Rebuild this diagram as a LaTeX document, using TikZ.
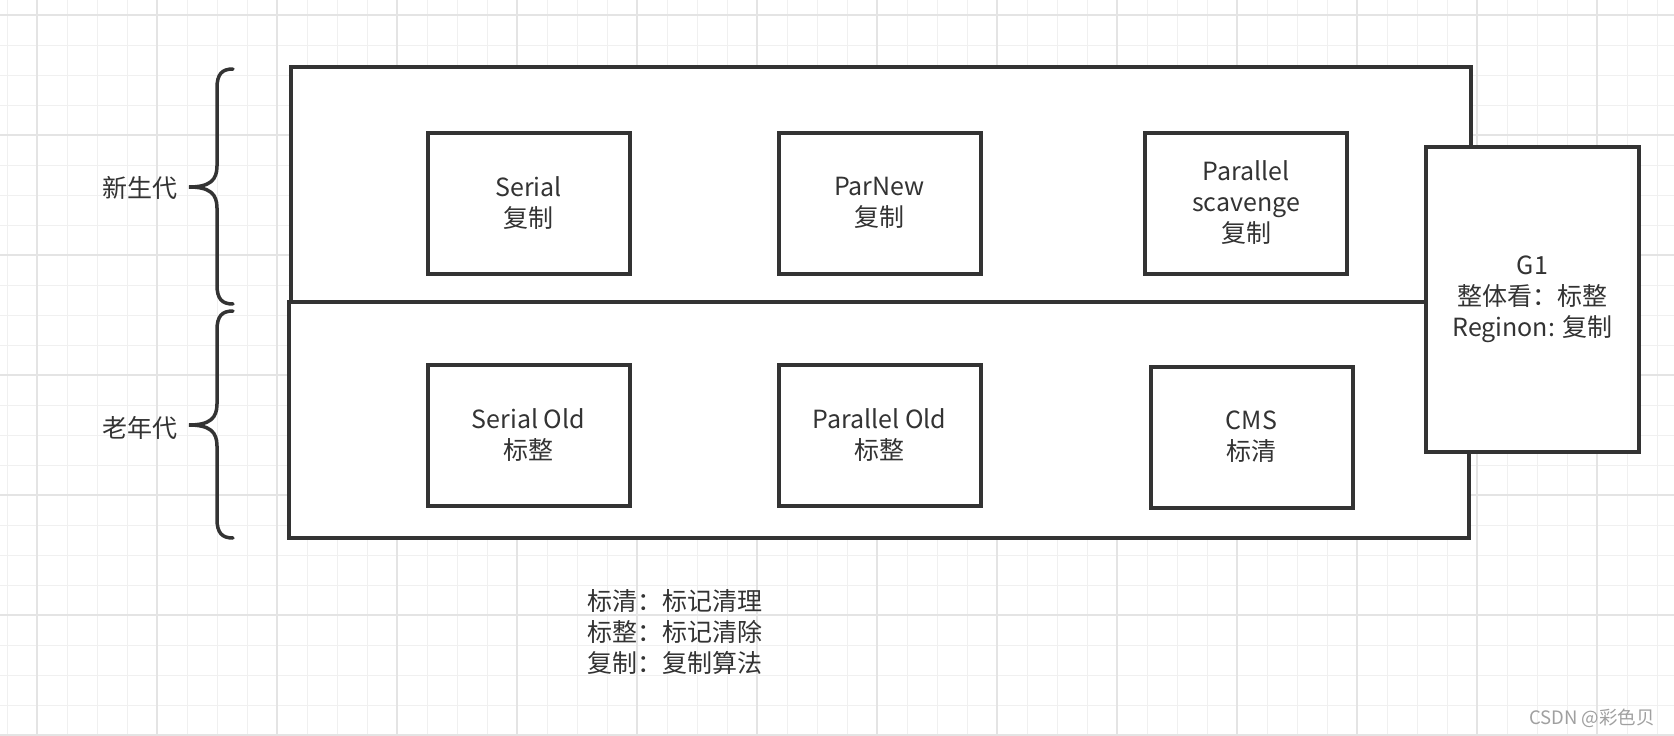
\documentclass[tikz,border=0pt]{standalone}
\usepackage{fontspec}
\setmainfont{Noto Sans CJK SC}
\definecolor{ink}{HTML}{333333}
\definecolor{gridminor}{HTML}{F0F0F0}
\definecolor{gridmajor}{HTML}{E4E4E4}
\definecolor{wm}{HTML}{A0A0A0}
\tikzset{
  box/.style={draw=ink, line width=4pt, fill=white, align=center, text=ink,
    font=\fontsize{25}{31}\selectfont, inner sep=0pt},
  gcbox/.style={box, minimum width=202pt, minimum height=141pt},
  brace/.style={draw=ink, line width=3.5pt, line cap=round},
  lbl/.style={text=ink, font=\fontsize{25}{31}\selectfont, inner sep=0pt},
}
\begin{document}
\begin{tikzpicture}[x=1pt,y=-1pt]
\useasboundingbox (0,0) rectangle (1674,736);
\fill[white] (0,0) rectangle (1674,736);
% grid
\foreach \i in {0,...,55} {\draw[gridminor, line width=1pt] (7+30*\i,0) -- (7+30*\i,736);}
\foreach \i in {0,...,24} {\draw[gridminor, line width=1pt] (0,15+30*\i) -- (1674,15+30*\i);}
\foreach \i in {0,...,13} {\draw[gridmajor, line width=1.3pt] (37+120*\i,0) -- (37+120*\i,736);}
\foreach \i in {0,...,6} {\draw[gridmajor, line width=1.3pt] (0,15+120*\i) -- (1674,15+120*\i);}

% generations
\node[box, minimum width=1180pt, minimum height=235pt] (young) at (881,184.5) {};
\node[box, minimum width=1180pt, minimum height=236pt] (old) at (879,420) {};

% collectors
\node[gcbox] (serial) at (528.5,203) {Serial\\复制};
\node[gcbox] (parnew) at (879.5,203) {ParNew\\复制};
\node[gcbox] (ps) at (1246,203) {Parallel\\scavenge\\复制};
\node[gcbox] (serialold) at (528.5,435) {Serial Old\\标整};
\node[gcbox] (parold) at (879.5,435) {Parallel Old\\标整};
\node[gcbox] (cms) at (1251.5,437) {CMS\\标清};
\node[box, minimum width=213pt, minimum height=305pt] (g1) at (1532.5,299) {G1\\整体看：标整\\Reginon: 复制};

% braces
\draw[brace] (233,69) .. controls (222,69) and (217,74) .. (217,88) -- (217,166)
  .. controls (217,180) and (210,187) .. (189,187)
  .. controls (210,187) and (217,194) .. (217,208) -- (217,285)
  .. controls (217,299) and (222,304) .. (233,304);
\draw[brace] (233,311) .. controls (222,311) and (217,316) .. (217,330) -- (217,404)
  .. controls (217,418) and (210,425) .. (189,425)
  .. controls (210,425) and (217,432) .. (217,446) -- (217,519)
  .. controls (217,533) and (222,538) .. (233,538);
\node[lbl] (younglbl) at (140,188) {新生代};
\node[lbl] (oldlbl) at (140,428) {老年代};

% legend
\node[lbl, anchor=west, align=left] (legend) at (587,632) {标清：标记清理\\标整：标记清除\\复制：复制算法};

% watermark
\node[text=wm, font=\fontsize{18.5}{20}\selectfont, inner sep=0pt] (wmark) at (1592,718) {CSDN @彩色贝};
\end{tikzpicture}
\end{document}
